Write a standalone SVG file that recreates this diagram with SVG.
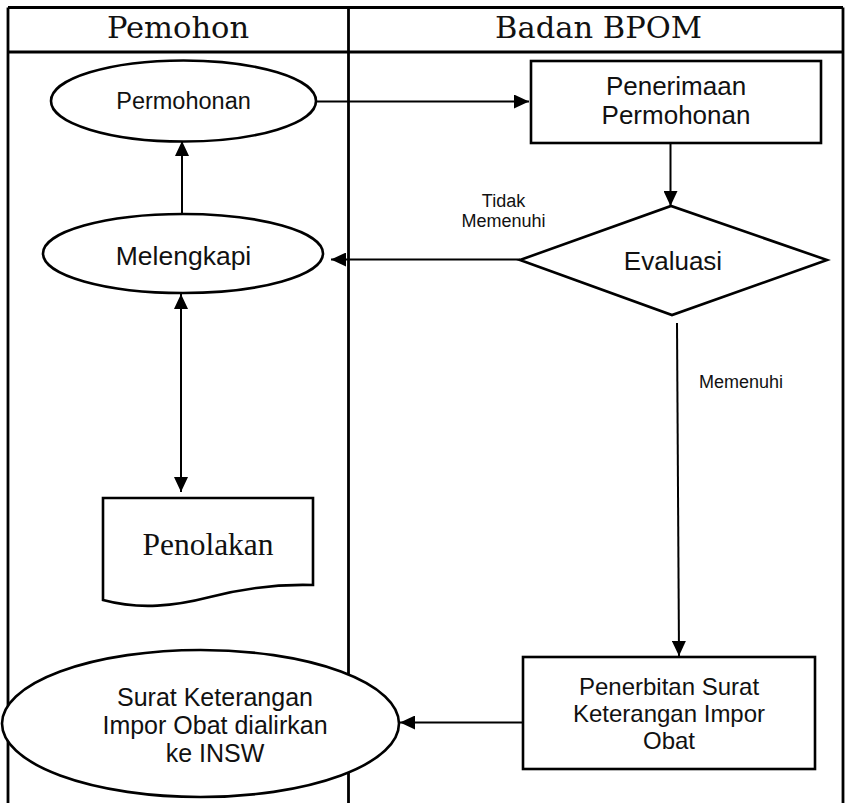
<svg xmlns="http://www.w3.org/2000/svg" width="851" height="803" viewBox="0 0 851 803">
<style>
.tbl{stroke:#000;stroke-width:2.8;fill:none}
.shape{fill:#fff;stroke:#000;stroke-width:2.6}
.con{stroke:#000;stroke-width:2;fill:none}
.t{font-family:"Liberation Sans",Arial,sans-serif;fill:#111;text-anchor:middle}
.hdr{font-family:"DejaVu Serif","Liberation Serif",serif;font-size:30.5px;fill:#111;text-anchor:middle}
.lbl{font-family:"Liberation Sans",Arial,sans-serif;font-size:18px;fill:#111;text-anchor:middle}
</style>
<defs>
<marker id="arr" viewBox="0 0 15 14" refX="15" refY="7" markerWidth="15" markerHeight="14" markerUnits="userSpaceOnUse" orient="auto-start-reverse">
<path d="M0,0 L15,7 L0,14 Z" fill="#000"/>
</marker>
</defs>
<rect width="851" height="803" fill="#fff"/>
<g id="table">
<path class="tbl" d="M8,7.5 H843 M8,52 H843 M8,7.5 V803 M348.5,7.5 V803 M843,7.5 V803"/>
<text class="hdr" x="178" y="38">Pemohon</text>
<text class="hdr" x="598.5" y="38">Badan BPOM</text>
</g>
<g id="connectors">
<path class="con" d="M316,101.5 H529" marker-end="url(#arr)"/>
<path class="con" d="M670.5,143 V206" marker-end="url(#arr)"/>
<path class="con" d="M520,259.5 H331" marker-end="url(#arr)"/>
<path class="con" d="M182,214 V141" marker-end="url(#arr)"/>
<path class="con" d="M181,294 V492" marker-start="url(#arr)" marker-end="url(#arr)"/>
<path class="con" d="M677,323 L679,656" marker-end="url(#arr)"/>
<path class="con" d="M523,722.5 H400" marker-end="url(#arr)"/>
<text class="lbl" x="503.5" y="206.5">Tidak</text>
<text class="lbl" x="503.5" y="226.5">Memenuhi</text>
<text class="lbl" x="741" y="388">Memenuhi</text>
</g>
<g id="permohonan">
<ellipse class="shape" cx="183.5" cy="101" rx="132.5" ry="40.5"/>
<text class="t" x="183.5" y="109" font-size="23.5">Permohonan</text>
</g>
<g id="melengkapi">
<ellipse class="shape" cx="183" cy="253.5" rx="140" ry="39.5"/>
<text class="t" x="183.5" y="265" font-size="26.5">Melengkapi</text>
</g>
<g id="penerimaan">
<rect class="shape" x="531" y="61" width="290" height="82"/>
<text class="t" x="676" y="95" font-size="26">Penerimaan</text>
<text class="t" x="676" y="124" font-size="26">Permohonan</text>
</g>
<g id="evaluasi">
<polygon class="shape" points="520,260 671,206 827,260 672,315"/>
<text class="t" x="673" y="269.5" font-size="26">Evaluasi</text>
</g>
<g id="penolakan">
<path class="shape" d="M103,498 H313 V585 C280,584 245,588 210,597 C175,606 140,610 103,600 Z"/>
<text x="208" y="555" font-family="Liberation Serif,'Times New Roman',serif" font-size="31.5" fill="#111" text-anchor="middle">Penolakan</text>
</g>
<g id="penerbitan">
<rect class="shape" x="523" y="657" width="292" height="112"/>
<text class="t" x="669" y="695" font-size="24">Penerbitan Surat</text>
<text class="t" x="669" y="722" font-size="24">Keterangan Impor</text>
<text class="t" x="669" y="749" font-size="24">Obat</text>
</g>
<g id="surat">
<ellipse class="shape" cx="200.5" cy="723.5" rx="198.5" ry="73.5"/>
<text class="t" x="215" y="706" font-size="25">Surat Keterangan</text>
<text class="t" x="215" y="734" font-size="25">Impor Obat dialirkan</text>
<text class="t" x="215" y="762" font-size="25">ke INSW</text>
</g>
</svg>
